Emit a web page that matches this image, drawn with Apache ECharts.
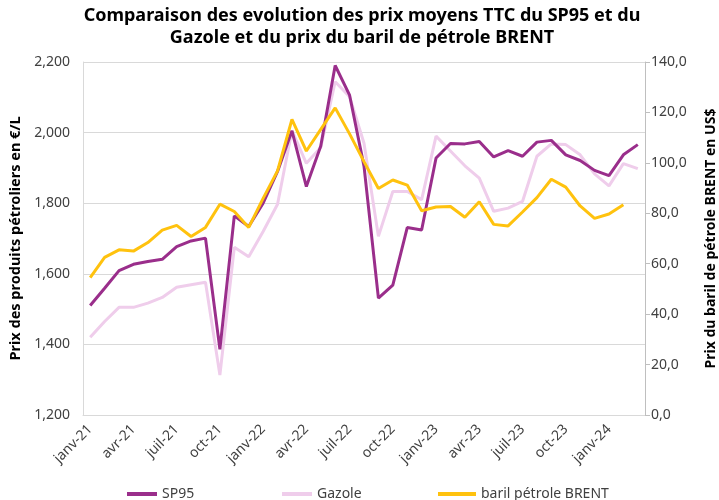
<!DOCTYPE html>
<html>
<head>
<meta charset="utf-8">
<script src="https://cdn.jsdelivr.net/npm/echarts@6/dist/echarts.min.js"></script>
<style>html,body{margin:0;padding:0;background:#fff;}#c{width:719px;height:500px;}</style>
</head>
<body>
<div id="c"></div>
<script>
const months = ['janv','févr','mars','avr','mai','juin','juil','août','sept','oct','nov','déc'];
const categories = [];
for (let y = 21; y <= 24; y++) {
  for (let m = 0; m < 12; m++) {
    if (y === 24 && m > 2) break;
    categories.push(months[m] + '-' + y);
  }
}
const sp95 = [1.510,1.559,1.609,1.627,1.635,1.641,1.677,1.693,1.701,1.386,1.764,1.734,1.800,1.890,2.005,1.847,1.962,2.190,2.106,1.905,1.531,1.568,1.731,1.724,1.928,1.969,1.968,1.975,1.931,1.949,1.933,1.973,1.978,1.937,1.921,1.893,1.878,1.937,1.966];
const gazole = [1.420,1.465,1.505,1.505,1.517,1.533,1.562,1.569,1.576,1.313,1.675,1.648,1.720,1.797,2.006,1.913,1.958,2.144,2.102,1.970,1.706,1.833,1.833,1.810,1.990,1.948,1.906,1.871,1.777,1.786,1.805,1.933,1.968,1.966,1.937,1.883,1.849,1.912,1.898];
const brent = [54.5,62.5,65.5,65.0,68.4,73.3,75.2,70.8,74.4,83.6,80.7,74.4,85.9,96.8,117.2,104.7,113.3,121.8,111.5,100.5,89.8,93.2,91.2,81.0,82.5,82.7,78.4,84.6,75.6,75.0,80.5,86.2,93.5,90.4,82.9,78.0,79.7,83.4];
const leftTicks = {min:1.2, max:2.2, interval:0.2};
const rightTicks = {min:0, max:140, interval:20};
const titleText = 'Comparaison des evolution des prix moyens TTC du SP95 et du\nGazole et du prix du baril de pétrole BRENT';

const chart = echarts.init(document.getElementById('c'), null, {renderer:'canvas'});
const fontFam = '"Noto Sans", sans-serif';
const legendText = {fontFamily: fontFam, fontSize: 14, color: '#404040'};
chart.setOption({
  animation: false,
  textStyle: {fontFamily: fontFam},
  graphic: [{
    type:'text', x:362, y:5,
    style:{text:titleText, textAlign:'center', textVerticalAlign:'top',
      font:'bold 18px "Noto Sans", sans-serif', lineHeight:22, fill:'#000'}
  }],
  legend: [
    {data:['SP95'], left:122, top:482, itemWidth:30, itemHeight:4, itemGap:5, textStyle:legendText, icon:'rect'},
    {data:['Gazole'], left:277, top:482, itemWidth:30, itemHeight:4, textStyle:legendText, icon:'rect'},
    {data:['baril pétrole BRENT'], left:433, top:482, itemWidth:38, itemHeight:4, textStyle:legendText, icon:'rect'}
  ],
  grid: {left:83, right:74, top:62, bottom:85, containLabel:false, outerBoundsMode:'none'},
  xAxis: {
    type:'category', data: categories, boundaryGap: true,
    axisLine: {show:true, lineStyle:{color:'#d9d9d9', width:1}},
    axisTick: {show:false},
    axisLabel: {interval:2, rotate:45, fontSize:14, color:'#404040', fontFamily:fontFam, margin:12}
  },
  yAxis: [
    {
      type:'value', min:leftTicks.min, max:leftTicks.max, interval:leftTicks.interval, position:'left',
      name:'Prix des produits pétroliers en €/L', nameLocation:'middle', nameGap:58,
      nameTextStyle:{fontFamily:fontFam, fontSize:14.5, fontWeight:'bold', color:'#000'},
      axisLine:{show:true, lineStyle:{color:'#d9d9d9'}},
      axisTick:{show:false},
      splitLine:{show:true, lineStyle:{color:'#d9d9d9', width:1}},
      axisLabel:{fontSize:14, color:'#404040', fontFamily:fontFam, margin:13,
        formatter: v => v.toFixed(3).replace('.', ',')}
    },
    {
      type:'value', min:rightTicks.min, max:rightTicks.max, interval:rightTicks.interval, position:'right',
      name:'Prix du baril de pétrole BRENT en US$', nameLocation:'middle', nameGap:59,
      nameTextStyle:{fontFamily:fontFam, fontSize:14, fontWeight:'bold', color:'#000'},
      axisLine:{show:true, lineStyle:{color:'#bfbfbf'}},
      axisTick:{show:true, length:5, inside:false, lineStyle:{color:'#bfbfbf'}},
      splitLine:{show:false},
      axisLabel:{fontSize:14, color:'#404040', fontFamily:fontFam, margin:6,
        formatter: v => v.toFixed(1).replace('.', ',')}
    }
  ],
  series: [
    {name:'SP95', type:'line', data:sp95, yAxisIndex:0, z:3, symbol:'none',
      lineStyle:{color:'#9a2e8b', width:3}, itemStyle:{color:'#9a2e8b'}},
    {name:'Gazole', type:'line', data:gazole, yAxisIndex:0, z:2, symbol:'none',
      lineStyle:{color:'#efcdeb', width:3}, itemStyle:{color:'#efcdeb'}},
    {name:'baril pétrole BRENT', type:'line', data:brent, yAxisIndex:1, z:4, symbol:'none',
      lineStyle:{color:'#ffc20e', width:3}, itemStyle:{color:'#ffc20e'}}
  ]
});
</script>
</body>
</html>
